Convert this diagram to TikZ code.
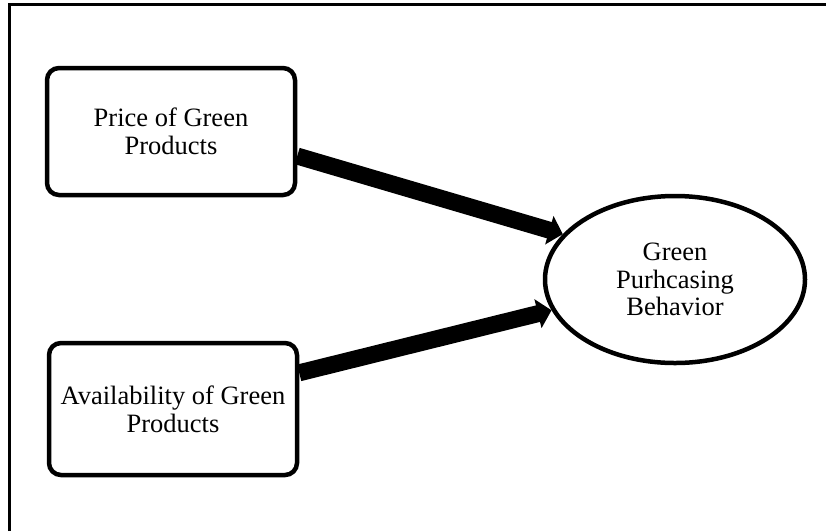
\documentclass[tikz,border=0pt]{standalone}
\usepackage{fontspec}
\setmainfont{Liberation Serif}
\usetikzlibrary{arrows.meta,shapes.geometric}

\begin{document}
\begin{tikzpicture}[x=1pt,y=-1pt,
    factorbox/.style={draw,line width=4.5pt,rounded corners=12pt,align=center,
      minimum width=248pt,minimum height=127pt,font=\fontsize{26.5}{28}\selectfont},
    outcomeoval/.style={draw,ellipse,line width=4.5pt,align=center,inner sep=0pt,
      minimum width=260pt,minimum height=167pt,font=\fontsize{26.5}{27.5}\selectfont},
    link/.style={line width=17pt,-{Triangle[length=14pt,width=29pt]}}]
    \useasboundingbox (0,0) rectangle (826,531);
    \draw[line width=2.5pt] (9.5,531) -- (9.5,4.5) -- (826,4.5);
    \node[factorbox] (price) at (171,131.5) {Price of Green\\Products};
    \node[factorbox,minimum height=132pt] (avail) at (173,409) {Availability of Green\\Products};
    \node[outcomeoval] (behavior) at (675,279.5) {Green\\Purhcasing\\Behavior};
    \draw[link] (price.-11) -- (behavior.158);
    \draw[link] (avail.16) -- (behavior.194);
\end{tikzpicture}
\end{document}
